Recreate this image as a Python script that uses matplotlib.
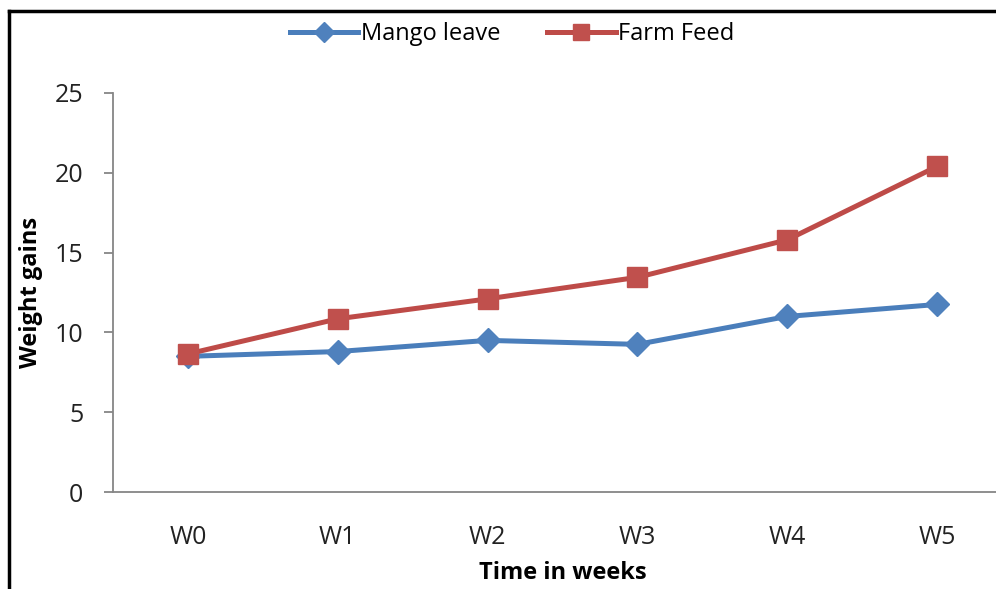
import matplotlib
matplotlib.use('Agg')
import matplotlib.pyplot as plt
from matplotlib.lines import Line2D

plt.rcParams['font.family'] = ['Open Sans', 'DejaVu Sans']

# data
weeks = ['W0', 'W1', 'W2', 'W3', 'W4', 'W5']
mango_leave = [8.5, 8.8, 9.5, 9.25, 11.0, 11.75]
farm_feed = [8.65, 10.85, 12.1, 13.45, 15.8, 20.4]
y_ticks = [0, 5, 10, 15, 20, 25]

W, H = 996, 589
fig = plt.figure(figsize=(W / 100, H / 100), dpi=100)

# axes extend past the right edge, like the cropped original
ax = fig.add_axes([113 / W, 97 / H, 899 / W, 399 / H])
x = range(len(weeks))
ax.plot(x, mango_leave, color='#4A7EBB', lw=3.6, marker='D', ms=12,
        mfc='#4F81BD', mec='#4F81BD', label='Mango leave', zorder=3)
ax.plot(x, farm_feed, color='#BE4B48', lw=3.6, marker='s', ms=14,
        mfc='#C0504D', mec='#C0504D', label='Farm Feed', zorder=3)

ax.set_xlim(-0.5, 5.5)
ax.set_ylim(0, 25)
ax.set_yticks(y_ticks)
ax.set_xticks(list(x))
ax.set_xticklabels(weeks)

for s in ['top', 'right']:
    ax.spines[s].set_visible(False)
for s in ['left', 'bottom']:
    ax.spines[s].set_color('#868686')
    ax.spines[s].set_linewidth(1.3)

ax.tick_params(axis='y', direction='out', length=6.5, width=1.3,
               color='#868686', pad=15, labelsize=18, labelcolor='#222222')
ax.tick_params(axis='x', length=0, pad=24, labelsize=18, labelcolor='#222222')

ax.set_ylabel('Weight gains', fontsize=17, fontweight='bold', labelpad=8)
ax.set_xlabel('Time in weeks', fontsize=17, fontweight='bold', labelpad=8)

fig.legend(loc='center', bbox_to_anchor=(512 / W, 1 - 34 / H), ncol=2,
           frameon=False, fontsize=17, handlelength=2.9, columnspacing=2.0,
           handletextpad=0.1, markerscale=0.85)

# chart border (only top and left visible)
top = 1 - 11 / H
fig.add_artist(Line2D([9 / W, 1], [top, top], color='black', lw=2.5,
                      transform=fig.transFigure))
fig.add_artist(Line2D([9 / W, 9 / W], [0, top], color='black', lw=2.5,
                      transform=fig.transFigure))

fig.savefig('out.png', dpi=100)
